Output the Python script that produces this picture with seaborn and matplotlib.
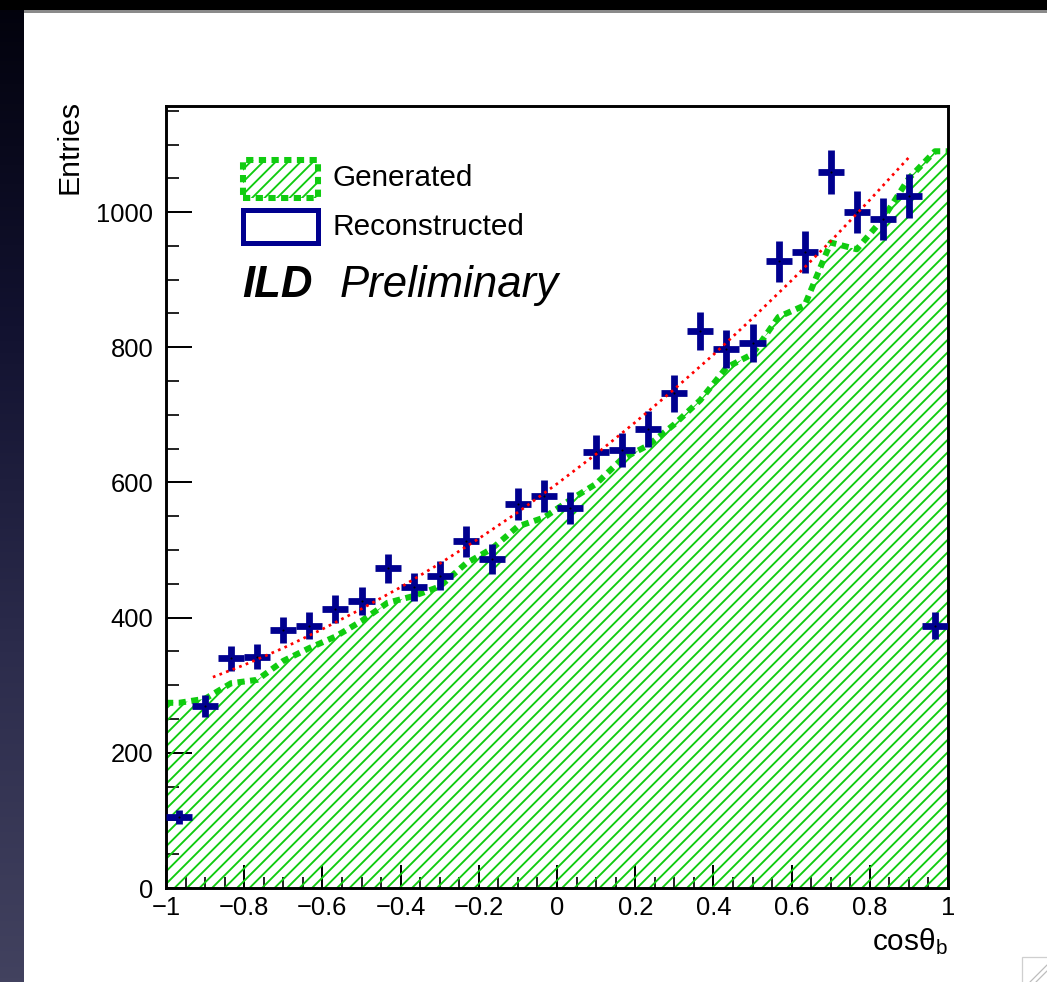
import numpy as np
import pandas as pd
import matplotlib
matplotlib.use("Agg")
import matplotlib.pyplot as plt
import seaborn as sns
from matplotlib.patches import Rectangle
from matplotlib.colors import LinearSegmentedColormap
from matplotlib.ticker import FixedLocator, MultipleLocator

# ---- data -------------------------------------------------------------
n_bins = 30
x_min, x_max = -1.0, 1.0

# generated b-quark polar-angle distribution (entries per bin)
gen_counts = [274, 280, 303, 308, 336, 355, 372, 395, 422, 432,
              446, 480, 502, 535, 548, 574, 598, 635, 655, 686,
              722, 770, 790, 845, 862, 955, 945, 990, 1050, 1090]

# reconstructed distribution (entries per bin)
reco_counts = [105, 269, 340, 342, 382, 388, 413, 425, 473, 445,
               462, 513, 487, 568, 580, 562, 645, 648, 679, 732,
               824, 797, 806, 927, 941, 1059, 1000, 990, 1024, 388]

# fit to the reconstructed distribution
fit_x = [-0.88, -0.8, -0.7, -0.6, -0.5, -0.4, -0.3, -0.2, -0.1, 0.0,
         0.1, 0.2, 0.3, 0.4, 0.5, 0.6, 0.7, 0.8, 0.9]
fit_y = [312, 330, 355, 383, 413, 445, 480, 517, 556, 598,
         642, 689, 738, 789, 843, 899, 957, 1018, 1081]

x_ticks = [-1.0, -0.8, -0.6, -0.4, -0.2, 0.0, 0.2, 0.4, 0.6, 0.8, 1.0]
x_tick_labels = ["\u22121", "\u22120.8", "\u22120.6", "\u22120.4", "\u22120.2",
                 "0", "0.2", "0.4", "0.6", "0.8", "1"]
y_ticks = [0, 200, 400, 600, 800, 1000]
y_tick_labels = ["0", "200", "400", "600", "800", "1000"]

# ---- style ------------------------------------------------------------
sns.set_theme(style="ticks")
plt.rcParams["font.family"] = ["Liberation Sans", "DejaVu Sans"]
plt.rcParams["mathtext.fontset"] = "custom"
plt.rcParams["mathtext.rm"] = "Liberation Sans"
plt.rcParams["mathtext.it"] = "Liberation Sans:italic"
plt.rcParams["hatch.linewidth"] = 1.8

GREEN = "#10cc10"
NAVY = "#00008f"
RED = "#ff0000"

DPI = 75
fig = plt.figure(figsize=(1047 / DPI, 982 / DPI), dpi=DPI, facecolor="white")

# slide frame around the canvas
bg = fig.add_axes([0, 0, 1, 1], zorder=-10)
bg.set_xlim(0, 1047)
bg.set_ylim(982, 0)
bg.axis("off")
grad = np.linspace(0, 1, 256)[:, None]
frame_cmap = LinearSegmentedColormap.from_list("frame", ["#02020c", "#121230", "#2c2c4c", "#42425f"])
bg.imshow(grad, cmap=frame_cmap, extent=[0, 24, 982, 0], aspect="auto")
bg.add_patch(Rectangle((0, 0), 1047, 10, color="black", lw=0))
bg.add_patch(Rectangle((24, 10), 1023, 2.5, color="#8a8a8a", lw=0))
bg.add_patch(Rectangle((1022, 957), 30, 30, facecolor="white", edgecolor="#cfcfcf", lw=1.2))
bg.plot([1030, 1047], [982, 965], color="#bdbdbd", lw=1.2)
bg.plot([1036, 1047], [982, 971], color="#bdbdbd", lw=1.2)

ax = fig.add_axes([166 / 1047, 94 / 982, 782 / 1047, 782 / 982])
ax.set_facecolor("white")

bin_width = (x_max - x_min) / n_bins
centers = x_min + bin_width * (np.arange(n_bins) + 0.5)

# generated: hatched area with a thick dotted outline
gen_x = np.concatenate([[x_min], centers, [x_max]])
gen_y = np.concatenate([[gen_counts[0]], gen_counts, [gen_counts[-1]]])
gen_df = pd.DataFrame({"x": gen_x, "y": gen_y})
ax.fill_between(gen_df["x"], 0, gen_df["y"], facecolor="none", edgecolor=GREEN,
                hatch="//", linewidth=0, zorder=1)
sns.lineplot(data=gen_df, x="x", y="y", ax=ax, color=GREEN, lw=5.8,
             linestyle=(0, (1.2, 0.9)), estimator=None, sort=False, zorder=2)

# reconstructed: crosses with statistical errors
reco_df = pd.DataFrame({"x": centers, "y": reco_counts})
ax.errorbar(reco_df["x"], reco_df["y"], xerr=bin_width / 2,
            yerr=np.sqrt(reco_df["y"]), fmt="none", ecolor=NAVY,
            elinewidth=6.5, capsize=0, zorder=3)
sns.scatterplot(data=reco_df, x="x", y="y", ax=ax, color="black", s=4,
                linewidth=0, zorder=4)

# fit curve
fit_df = pd.DataFrame({"x": fit_x, "y": fit_y})
sns.lineplot(data=fit_df, x="x", y="y", ax=ax, color=RED, lw=2.6,
             linestyle=(0, (1, 1.6)), estimator=None, sort=False, zorder=5)

# ---- axes ------------------------------------------------------------
ax.set_xlim(x_min, x_max)
ax.set_ylim(0, 1157)
ax.set_xlabel("")
ax.set_ylabel("")
for s in ax.spines.values():
    s.set_visible(True)
    s.set_color("black")
    s.set_linewidth(2.8)

ax.xaxis.set_major_locator(FixedLocator(x_ticks))
ax.set_xticklabels(x_tick_labels)
ax.xaxis.set_minor_locator(MultipleLocator(0.05))
ax.yaxis.set_major_locator(FixedLocator(y_ticks))
ax.set_yticklabels(y_tick_labels)
ax.yaxis.set_minor_locator(MultipleLocator(50))

ax.tick_params(axis="x", which="major", direction="in", length=22, width=1.9,
               labelsize=24.5, pad=8, colors="black", top=False)
ax.tick_params(axis="x", which="minor", direction="in", length=10.5, width=1.9, top=False)
ax.tick_params(axis="y", which="major", direction="in", length=25, width=1.9,
               labelsize=24.5, pad=12, colors="black", right=False)
ax.tick_params(axis="y", which="minor", direction="in", length=12.5, width=1.9, right=False)

ax.text(-0.123, 1.008, "Entries", rotation=90, ha="center", va="top",
        fontsize=29, color="black", transform=ax.transAxes)
ax.text(1.0, -0.079, r"cos$\mathregular{\theta_b}$", ha="right", va="baseline",
        fontsize=28.5, color="black", transform=ax.transAxes)

# legend
ax.add_patch(Rectangle((0.0985, 0.882), 0.096, 0.049, transform=ax.transAxes,
                       facecolor="white", edgecolor=GREEN, hatch="//", lw=5.8,
                       linestyle=(0, (1.2, 0.9)), zorder=6))
ax.add_patch(Rectangle((0.0985, 0.825), 0.096, 0.042, transform=ax.transAxes,
                       facecolor="white", edgecolor=NAVY, lw=4.8, zorder=6))
ax.text(0.2123, 0.908, "Generated", ha="left", va="center", fontsize=28.5,
        color="black", transform=ax.transAxes)
ax.text(0.2123, 0.845, "Reconstructed", ha="left", va="center", fontsize=28.5,
        color="black", transform=ax.transAxes)
ax.text(0.097, 0.771, "ILD", ha="left", va="center", fontsize=42,
        fontweight="bold", fontstyle="italic", color="black", transform=ax.transAxes)
ax.text(0.2225, 0.771, "Preliminary", ha="left", va="center", fontsize=42,
        fontstyle="italic", color="black", transform=ax.transAxes)

fig.savefig("out.png", dpi=DPI, facecolor="white")
